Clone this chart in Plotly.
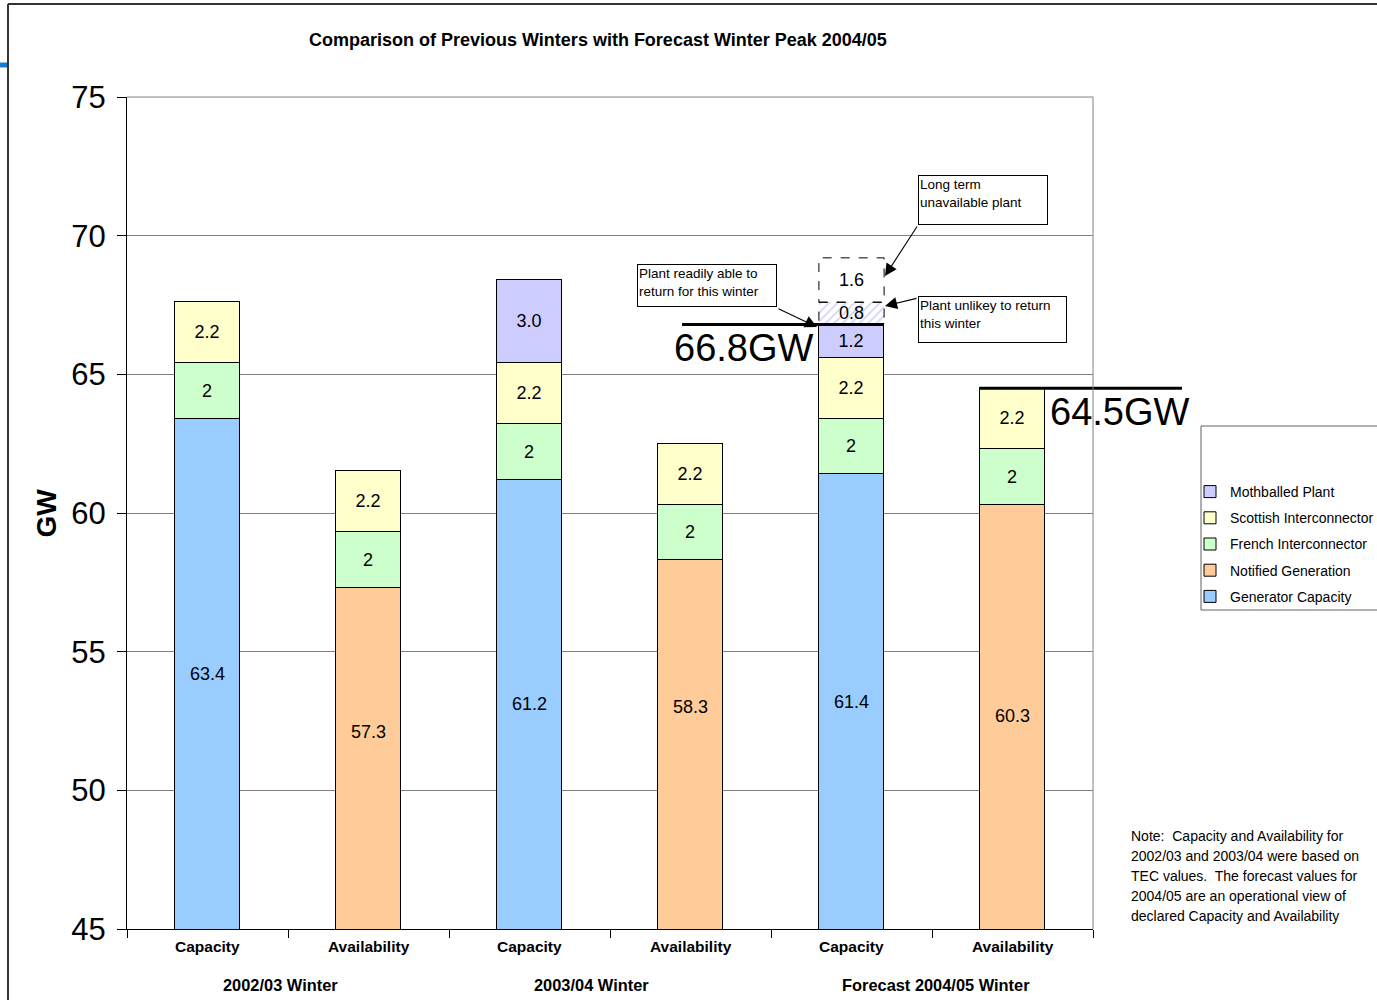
import plotly.graph_objects as go

# ---- data ----
groups = ["2002/03 Winter", "2003/04 Winter", "Forecast 2004/05 Winter"]
categories = ["Capacity", "Availability", "Capacity", "Availability", "Capacity", "Availability"]
generator_capacity = [63.4, None, 61.2, None, 61.4, None]
notified_generation = [None, 57.3, None, 58.3, None, 60.3]
french_interconnector = [2, 2, 2, 2, 2, 2]
scottish_interconnector = [2.2, 2.2, 2.2, 2.2, 2.2, 2.2]
mothballed_plant = [None, None, 3.0, None, 1.2, None]
plant_unlikely_to_return = [None, None, None, None, 0.8, None]
long_term_unavailable = [None, None, None, None, 1.6, None]
y_ticks = [45, 50, 55, 60, 65, 70, 75]
note_lines = ["Note:  Capacity and Availability for",
              "2002/03 and 2003/04 were based on",
              "TEC values.  The forecast values for",
              "2004/05 are an operational view of",
              "declared Capacity and Availability"]

# ---- layout geometry (pixels) ----
W, H = 1377, 1000
L, R, T, B = 127, 1093, 97, 929
Y0, Y1 = 45, 75
BAR_W = 0.405
HW = BAR_W / 2
LINE_SPAN = 1.255
FONT = "Liberation Sans, Arial, sans-serif"
# vertical nudges (px) for the bottom-segment labels, horizontal nudges for group labels
bottom_label_nudge = [0, 26, 0, 38, 0, 1]
group_label_nudge = [-8, -19, 4]

x = list(range(len(categories)))


def px_x(px):
    return (px - L) / (R - L)


def px_y(py):
    return (B - py) / (B - T)


def data_x_to_paper(v):
    return (v + 0.5) / len(categories)


def val_y_to_paper(v):
    return (v - Y0) / (Y1 - Y0)


def nz(v):
    return v or 0


fig = go.Figure()


def add_bar(name, values, marker, template, rank, showlegend=True):
    fig.add_trace(go.Bar(
        x=x, y=values, name=name, width=BAR_W, marker=marker,
        texttemplate=template, textposition="inside", insidetextanchor="middle",
        textangle=0, textfont=dict(family=FONT, size=18, color="black"),
        showlegend=showlegend, legendgroup=name, legendrank=rank, hoverinfo="skip"))


def solid(color):
    return dict(color=color, line=dict(color="black", width=1))


# bottom segments reach below the axis, so their labels are placed at the visible middle
add_bar("Generator Capacity", generator_capacity, solid("#99CCFF"), "", 5)
add_bar("Notified Generation", notified_generation, solid("#FFCC99"), "", 4)
add_bar("French Interconnector", french_interconnector, solid("#CCFFCC"), "%{y}", 3)
add_bar("Scottish Interconnector", scottish_interconnector, solid("#FFFFCC"), "%{y:.1f}", 2)
add_bar("Mothballed Plant", mothballed_plant, solid("#CCCCFF"), "%{y:.1f}", 1)
add_bar("Plant unlikely to return", plant_unlikely_to_return,
        dict(color="white", line=dict(width=0),
             pattern=dict(shape="/", fgcolor="#a8a8f0", bgcolor="white", size=6, solidity=0.3)),
        "%{y:.1f}", 6, showlegend=False)
add_bar("Long term unavailable", long_term_unavailable,
        dict(color="white", line=dict(width=0)), "%{y:.1f}", 7, showlegend=False)

shapes = []
annotations = []

for series in (generator_capacity, notified_generation):
    for i, v in enumerate(series):
        if v is None:
            continue
        annotations.append(dict(text=f"{v:.1f}", xref="x", yref="y", x=i, y=(Y0 + v) / 2,
                                yshift=bottom_label_nudge[i], showarrow=False,
                                font=dict(family=FONT, size=18, color="black")))

# dashed outlines for the two forecast-only segments
for i in x:
    if plant_unlikely_to_return[i] is None:
        continue
    base = (nz(generator_capacity[i]) + nz(notified_generation[i]) + french_interconnector[i]
            + scottish_interconnector[i] + nz(mothballed_plant[i]))
    mid = base + plant_unlikely_to_return[i]
    top = mid + nz(long_term_unavailable[i])
    for y0, y1 in ((base, mid), (mid, top)):
        shapes.append(dict(type="rect", xref="x", yref="y", x0=i - HW, x1=i + HW, y0=y0, y1=y1,
                           line=dict(color="black", width=1, dash="dash"), fillcolor="rgba(0,0,0,0)"))

# peak lines and labels
cap_i, av_i = 4, 5
cap_peak = (generator_capacity[cap_i] + french_interconnector[cap_i]
            + scottish_interconnector[cap_i] + mothballed_plant[cap_i])
av_peak = notified_generation[av_i] + french_interconnector[av_i] + scottish_interconnector[av_i]

shapes.append(dict(type="line", xref="paper", yref="paper",
                   x0=data_x_to_paper(cap_i + HW - LINE_SPAN), x1=data_x_to_paper(cap_i + HW),
                   y0=val_y_to_paper(cap_peak), y1=val_y_to_paper(cap_peak),
                   line=dict(color="black", width=3)))
shapes.append(dict(type="line", xref="paper", yref="paper",
                   x0=data_x_to_paper(av_i - HW), x1=data_x_to_paper(av_i - HW + LINE_SPAN),
                   y0=val_y_to_paper(av_peak), y1=val_y_to_paper(av_peak),
                   line=dict(color="black", width=3)))
annotations.append(dict(text=f"{cap_peak:.1f}GW", xref="x", yref="y", x=cap_i - HW, y=cap_peak,
                        xanchor="right", yanchor="top", xshift=-3, yshift=-1, showarrow=False,
                        font=dict(family=FONT, size=38, color="black")))
annotations.append(dict(text=f"{av_peak:.1f}GW", xref="x", yref="y", x=av_i + HW, y=av_peak,
                        xanchor="left", yanchor="top", xshift=3, yshift=-1, showarrow=False,
                        font=dict(family=FONT, size=38, color="black")))


# call-out boxes
def callout(text, x0, y0, x1, y1):
    annotations.append(dict(text=text, xref="paper", yref="paper", x=px_x(x0), y=px_y(y0),
                            xanchor="left", yanchor="top", align="left", valign="top",
                            width=x1 - x0 - 4, height=y1 - y0 - 4, showarrow=False,
                            bordercolor="black", borderwidth=1, borderpad=1, bgcolor="white",
                            font=dict(family=FONT, size=13.5, color="black")))


def arrow(tx, ty, hx, hy):
    annotations.append(dict(text="", xref="paper", yref="paper", x=px_x(hx), y=px_y(hy),
                            axref="pixel", ayref="pixel", ax=tx - hx, ay=ty - hy,
                            showarrow=True, arrowhead=2, arrowsize=2.2, arrowwidth=1.1,
                            arrowcolor="black"))


callout("Plant readily able to<br>return for this winter", 637, 264, 777, 307)
callout("Long term<br>unavailable plant", 918, 175, 1048, 225)
callout("Plant unlikey to return<br>this winter", 918, 296, 1067, 343)
arrow(777, 308, 817, 327)
arrow(918, 225, 885, 276)
arrow(918, 298, 885, 306)

# category and group labels
for i, c in enumerate(categories):
    annotations.append(dict(text=f"<b>{c}</b>", xref="x", yref="paper", x=i, y=px_y(946),
                            yanchor="middle", showarrow=False,
                            font=dict(family=FONT, size=15.5, color="black")))
for g, name in enumerate(groups):
    annotations.append(dict(text=f"<b>{name}</b>", xref="x", yref="paper", x=2 * g + 0.5, y=px_y(985),
                            xshift=group_label_nudge[g], yanchor="middle", showarrow=False,
                            font=dict(family=FONT, size=16.4, color="black")))

# title, axis title, note
annotations.append(dict(text="<b>Comparison of Previous Winters with Forecast Winter Peak 2004/05</b>",
                        xref="paper", yref="paper", x=px_x(598), y=px_y(40), yanchor="middle",
                        showarrow=False, font=dict(family=FONT, size=18, color="black")))
annotations.append(dict(text="<b>GW</b>", xref="paper", yref="paper", x=px_x(28), y=px_y(513),
                        textangle=-90, showarrow=False, font=dict(family=FONT, size=28, color="black")))
for k, line in enumerate(note_lines):
    annotations.append(dict(text=line, xref="paper", yref="paper", x=px_x(1129), y=px_y(836 + 20 * k),
                            xanchor="left", yanchor="middle", align="left", showarrow=False,
                            font=dict(family=FONT, size=14, color="black")))

# plot frame, legend frame and outer border
shapes.append(dict(type="line", xref="paper", yref="paper", x0=1, x1=1, y0=0, y1=1,
                   line=dict(color="#808080", width=1)))
shapes.append(dict(type="line", xref="paper", yref="paper", x0=0, x1=1, y0=1, y1=1,
                   line=dict(color="#808080", width=1)))
shapes.append(dict(type="rect", xref="paper", yref="paper", x0=px_x(1201), x1=px_x(1395),
                   y0=px_y(610), y1=px_y(426), line=dict(color="#606060", width=1)))
shapes.append(dict(type="line", xref="paper", yref="paper", x0=px_x(8), x1=px_x(1390),
                   y0=px_y(4), y1=px_y(4), line=dict(color="#333333", width=2)))
shapes.append(dict(type="line", xref="paper", yref="paper", x0=px_x(8), x1=px_x(8),
                   y0=px_y(4), y1=px_y(1005), line=dict(color="#333333", width=2)))
shapes.append(dict(type="line", xref="paper", yref="paper", x0=px_x(-2), x1=px_x(7),
                   y0=px_y(65), y1=px_y(65), line=dict(color="#1f78d1", width=5)))

fig.update_layout(
    width=W, height=H,
    margin=dict(l=L, r=W - R, t=T, b=H - B, autoexpand=False),
    paper_bgcolor="white", plot_bgcolor="white",
    barmode="stack", bargap=0,
    font=dict(family=FONT, color="black"),
    uniformtext=dict(minsize=18, mode="show"),
    showlegend=True,
    legend=dict(x=px_x(1190), y=px_y(476), xanchor="left", yanchor="top",
                traceorder="grouped", tracegroupgap=5,
                bgcolor="rgba(0,0,0,0)", borderwidth=0,
                font=dict(family=FONT, size=14, color="black"), itemwidth=30),
    xaxis=dict(range=[-0.5, len(categories) - 0.5], showgrid=False, zeroline=False,
               tickvals=[i - 0.5 for i in range(len(categories) + 1)],
               ticktext=[""] * (len(categories) + 1),
               ticks="outside", ticklen=8, tickcolor="black",
               showline=True, linecolor="black", linewidth=1),
    yaxis=dict(range=[Y0, Y1], tickvals=y_ticks, ticks="outside", ticklen=9, tickcolor="black",
               tickfont=dict(family=FONT, size=31, color="black"), ticklabelstandoff=5,
               showgrid=True, gridcolor="#808080", gridwidth=1, zeroline=False,
               showline=True, linecolor="black", linewidth=1),
    shapes=shapes, annotations=annotations,
)

fig.write_html("out.html")
